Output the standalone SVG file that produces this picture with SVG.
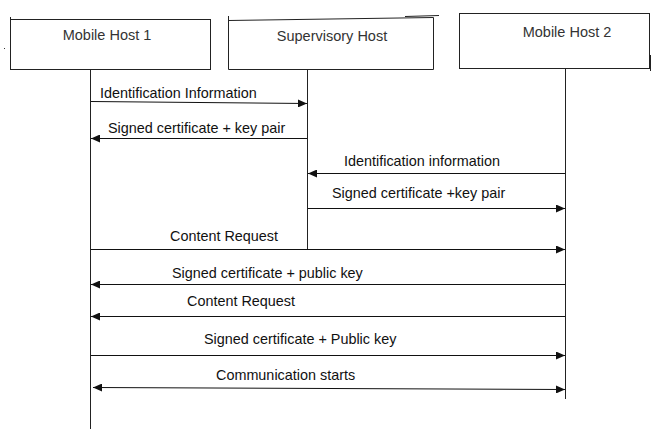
<svg xmlns="http://www.w3.org/2000/svg" width="654" height="429" viewBox="0 0 654 429">
<style>
.box{fill:#fff;stroke:#222;stroke-width:1}
.ln{stroke:#222;stroke-width:1;fill:none}
.hd{font-family:"Liberation Sans",Arial,sans-serif;font-size:14.5px;fill:#333;text-anchor:middle}
.lb{font-family:"Liberation Sans",Arial,sans-serif;font-size:14.4px;fill:#111}
.msg{stroke:#111;stroke-width:1;fill:none}
</style>
<defs>
<marker id="ah" markerWidth="9" markerHeight="8" refX="9" refY="4" orient="auto" markerUnits="userSpaceOnUse">
<path d="M0,0 L9,4 L0,8 Z" fill="#111"/>
</marker>
<marker id="as" markerWidth="9" markerHeight="8" refX="0" refY="4" orient="auto" markerUnits="userSpaceOnUse">
<path d="M9,0 L0,4 L9,8 Z" fill="#111"/>
</marker>
</defs>
<rect x="4" y="48" width="1" height="1" fill="#333"/>
<g id="mh1">
<rect class="box" x="10.5" y="19.5" width="200" height="50"/>
<line class="ln" x1="10.5" y1="17" x2="10.5" y2="20"/>
<text class="hd" x="107" y="40">Mobile Host 1</text>
</g>
<g id="sh">
<path class="box" d="M228.5,20.5 L433.5,17.5 L433.5,69.5 L228.5,69.5 Z"/>
<line class="ln" x1="228.5" y1="16" x2="228.5" y2="21"/>
<line class="ln" x1="405" y1="16.5" x2="439" y2="15.5"/>
<text class="hd" x="332" y="41">Supervisory Host</text>
</g>
<g id="mh2">
<rect class="box" x="459.5" y="13.5" width="190" height="55"/>
<line class="ln" x1="650.5" y1="55" x2="650.5" y2="71"/>
<text class="hd" x="567" y="37">Mobile Host 2</text>
</g>
<g id="lifelines">
<line class="ln" x1="90.5" y1="70" x2="90.5" y2="429"/>
<line class="ln" x1="307.5" y1="70" x2="307.5" y2="249"/>
<line class="ln" x1="565.5" y1="69" x2="565.5" y2="399"/>
</g>
<g id="connectors">
<line class="msg" x1="91" y1="101.5" x2="307" y2="103.5" marker-end="url(#ah)"/>
<line class="msg" x1="307" y1="138.5" x2="91" y2="138.5" marker-end="url(#ah)"/>
<line class="msg" x1="565" y1="173.5" x2="308" y2="173.5" marker-end="url(#ah)"/>
<line class="msg" x1="308" y1="208.5" x2="565" y2="208.5" marker-end="url(#ah)"/>
<line class="msg" x1="91" y1="249.5" x2="565" y2="249.5" marker-end="url(#ah)"/>
<line class="msg" x1="565" y1="284.5" x2="91" y2="284.5" marker-end="url(#ah)"/>
<line class="msg" x1="565" y1="316.5" x2="91" y2="316.5" marker-end="url(#ah)"/>
<line class="msg" x1="91" y1="355.5" x2="565" y2="355.5" marker-end="url(#ah)"/>
<line class="msg" x1="93" y1="387.5" x2="565" y2="389.5" marker-start="url(#as)" marker-end="url(#ah)"/>
</g>
<g id="labels">
<text class="lb" x="100" y="98">Identification Information</text>
<text class="lb" x="108" y="133">Signed certificate + key pair</text>
<text class="lb" x="344" y="166">Identification information</text>
<text class="lb" x="332" y="198">Signed certificate +key pair</text>
<text class="lb" x="170" y="241">Content Request</text>
<text class="lb" x="172" y="278">Signed certificate + public key</text>
<text class="lb" x="187" y="306">Content Request</text>
<text class="lb" x="204" y="344">Signed certificate + Public key</text>
<text class="lb" x="216" y="380">Communication starts</text>
</g>
</svg>
